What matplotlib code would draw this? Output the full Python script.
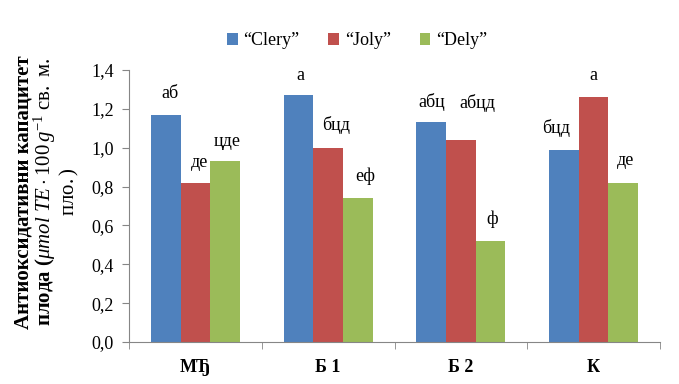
import matplotlib.pyplot as plt
import numpy as np

plt.rcParams['font.family'] = ['Liberation Serif', 'DejaVu Serif']
plt.rcParams['mathtext.fontset'] = 'custom'
plt.rcParams['mathtext.rm'] = 'Liberation Serif'
plt.rcParams['mathtext.it'] = 'Liberation Serif:italic'
plt.rcParams['mathtext.bf'] = 'Liberation Serif:bold'

categories = ['МЂ', 'Б 1', 'Б 2', 'К']
series = ['“Clery”', '“Joly”', '“Dely”']
clery = [1.17, 1.27, 1.13, 0.99]
joly = [0.82, 1.00, 1.04, 1.26]
dely = [0.93, 0.74, 0.52, 0.82]
letters_clery = ['аб', 'а', 'абц', 'бцд']
letters_joly = ['де', 'бцд', 'абцд', 'а']
letters_dely = ['цде', 'еф', 'ф', 'де']

colors = ['#4F81BD', '#C0504D', '#9BBB59']
# померање ознака у пикселима (dx, dy изнад стубића)
shifts = [
    [(4, 21), (2, 20), (0, 20), (-8, 22)],
    [(4, 20), (8, 23), (16, 37), (0, 22)],
    [(2, 20), (8, 22), (2, 22), (2, 22)],
]

fig = plt.figure(figsize=(6.79, 3.84), dpi=100)
ax = fig.add_axes([129/679, 1-342/384, 531/679, 272/384])

x = np.arange(len(categories))
w = 0.223
vals = [clery, joly, dely]
labs = [letters_clery, letters_joly, letters_dely]
for k in range(3):
    xs = x + (k-1)*w
    ax.bar(xs, vals[k], w, color=colors[k], label=series[k])
    for j in range(len(categories)):
        dx, dy = shifts[k][j]
        ax.annotate(labs[k][j], (xs[j], vals[k][j]), xytext=(dx*0.72, dy*0.72),
                    textcoords='offset points', ha='center', va='center', fontsize=13)

ax.set_xlim(-0.5, 3.5)
ax.set_ylim(0, 1.4)
ax.set_yticks(np.arange(0, 1.41, 0.2))
ax.set_yticklabels([f'{v:.1f}'.replace('.', ',') for v in np.arange(0, 1.41, 0.2)], fontsize=13)
ax.set_xticks(x)
ax.set_xticklabels(categories, fontsize=13, fontweight='bold')
ax.set_xticks(np.arange(-0.5, 3.6, 1), minor=True)
ax.tick_params(axis='x', which='major', length=0, pad=12)
ax.tick_params(axis='x', which='minor', length=5, color='#868686')
ax.tick_params(axis='y', length=5, color='#868686', pad=6)
for s in ['top', 'right']:
    ax.spines[s].set_visible(False)
for s in ['left', 'bottom']:
    ax.spines[s].set_color('#868686')

fig.text(0.069, 0.50, 'Антиоксидативни капацитет\nплода ($\\mathit{\\mu mol\\ TE}\\cdot 100\\,\\mathit{g}^{-1}$ $\\mathrm{св.\\ м.}$\n$\\mathrm{пло.)}$',
         rotation=90, ha='center', va='center', fontsize=15, fontweight='bold',
         multialignment='center', linespacing=0.95)

ax.legend(loc='upper center', bbox_to_anchor=(357/679, 1-16/384), bbox_transform=fig.transFigure,
          ncol=3, frameon=False, fontsize=13, handlelength=0.6, handleheight=0.6,
          handletextpad=0.3, columnspacing=1.6)

fig.savefig('out.png', dpi=100)
